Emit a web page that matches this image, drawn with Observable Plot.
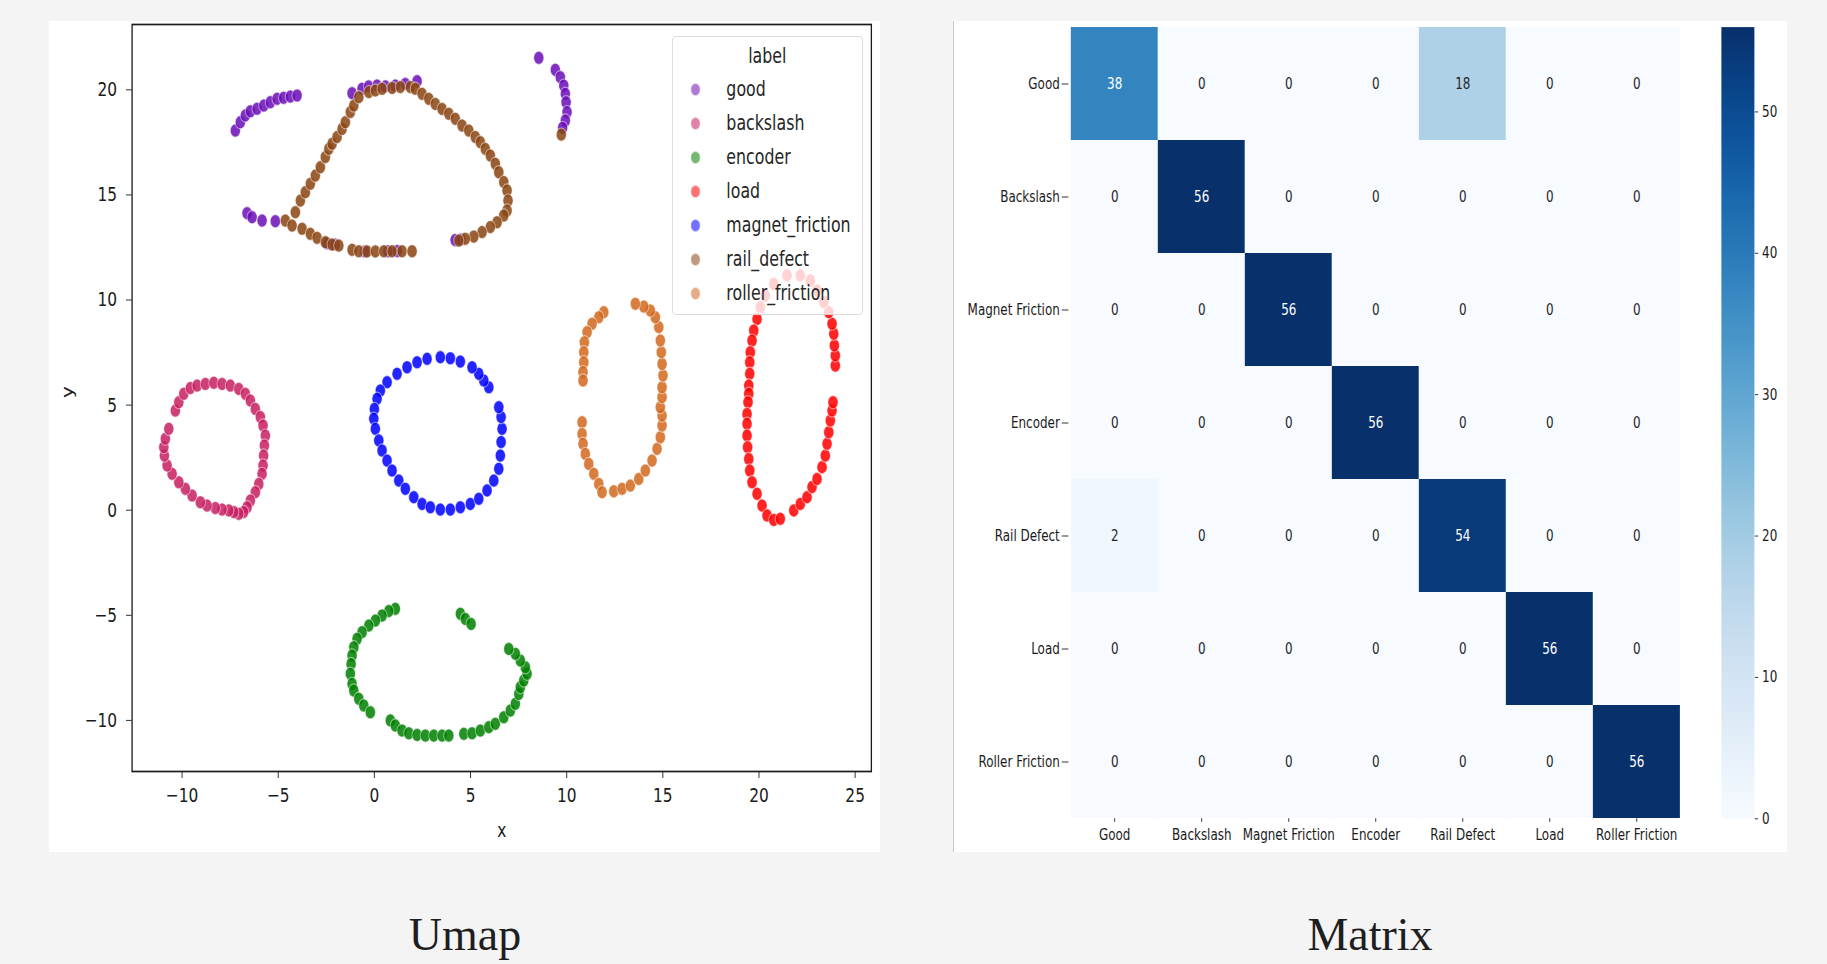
<!DOCTYPE html>
<html>
<head>
<meta charset="utf-8">
<script src="https://cdn.jsdelivr.net/npm/d3@7"></script>
<script src="https://cdn.jsdelivr.net/npm/@observablehq/plot@0.6"></script>
<style>
html, body { margin: 0; padding: 0; background: #f4f4f4; }
body { width: 1827px; height: 964px; position: relative; overflow: hidden; font-family: "DejaVu Sans", sans-serif; }
.panel { position: absolute; background: #fff; overflow: hidden; }
#umap { left: 49px; top: 21px; width: 831px; height: 831px; }
#matrix { left: 953px; top: 21px; width: 834px; height: 831px; }
#matrixEdge { position: absolute; left: 953px; top: 21px; width: 1px; height: 831px; background: #c8c8c8; }
.panel svg { position: absolute; top: 0; }
.caption { position: absolute; top: 912px; font-family: "Liberation Serif", serif; font-size: 46px; line-height: 46px; color: #1e1e1e; transform: translateX(-50%); white-space: nowrap; }
#legend { position: absolute; left: 622.7px; top: 15px; width: 247.5px; height: 279px; box-sizing: border-box;
  border: 1.3px solid #d6d6d6; border-radius: 5px; background: rgba(255,255,255,0.8);
  transform: scaleX(0.77); transform-origin: 0 0; font-family: "DejaVu Sans", sans-serif; font-size: 20.5px; color: #262626; }
#legend .ttl { position: absolute; left: 0; right: 0; top: 7px; line-height: 24px; text-align: center; }
#legend .row { position: absolute; left: 0; height: 24px; line-height: 24px; width: 100%; }
#legend .sw { position: absolute; left: 22.9px; top: 5.5px; width: 13px; height: 13px; border-radius: 50%; box-sizing: border-box; border: 1px solid rgba(255,255,255,0.6); }
#legend .lb { position: absolute; left: 69.6px; top: 0; }
</style>
</head>
<body>
<div class="panel" id="umap"></div>
<div class="panel" id="matrix"></div>
<div id="matrixEdge"></div>
<div class="caption" style="left:465px">Umap</div>
<div class="caption" style="left:1370px">Matrix</div>
<script>
// ---------- UMAP data ----------
const classes = ["good", "backslash", "encoder", "load", "magnet_friction", "rail_defect", "roller_friction"];
const classColors = ["#6b0fb8", "#c71f62", "#008000", "#ff0000", "#0000ff", "#8b4513", "#d2691e"];

const good = [
  [-7.23,18.06],[-6.97,18.46],[-6.71,18.78],[-6.45,18.98],[-6.10,19.10],[-5.75,19.25],[-5.41,19.41],[-5.06,19.57],[-4.72,19.62],[-4.37,19.68],[-4.02,19.73],
  [8.55,21.52],[9.41,20.95],[9.67,20.60],[9.85,20.20],[9.93,19.81],[9.97,19.41],[10.02,18.94],[9.93,18.54],[9.79,18.19],
  [-1.16,19.84],[-0.64,20.05],[-0.30,20.16],[0.14,20.20],[0.57,20.16],[1.09,20.20],[1.61,20.28],[2.22,20.41],
  [-6.62,14.13],[-6.36,13.94],[-5.84,13.78],[-5.15,13.75],
  [-2.45,12.70],[-2.05,12.64],[-0.50,12.31],[0.70,12.32],[1.20,12.33],[4.20,12.85],[4.50,12.88]
];
const backslash = [
  [-10.35,4.74],[-10.17,5.14],[-9.91,5.54],[-9.57,5.81],[-9.22,5.93],[-8.79,6.01],[-8.35,6.06],[-7.92,6.01],[-7.49,5.93],[-7.05,5.77],
  [-6.71,5.54],[-6.45,5.22],[-6.19,4.82],[-5.93,4.43],[-5.79,4.03],[-5.67,3.55],[-5.72,3.08],[-5.76,2.60],[-5.79,2.13],[-5.84,1.73],
  [-6.01,1.25],[-6.19,0.86],[-6.45,0.46],[-6.62,0.14],[-6.80,-0.09],[-7.05,-0.17],[-7.31,-0.09],[-7.57,-0.01],[-7.92,0.03],[-8.27,0.10],
  [-8.70,0.22],[-9.05,0.38],[-9.48,0.70],[-9.83,1.02],[-10.17,1.33],[-10.52,1.73],[-10.78,2.13],[-10.92,2.60],[-10.95,3.00],[-10.87,3.40],[-10.69,3.87]
];
const encoder = [
  [1.09,-4.69],[0.75,-4.80],[0.40,-5.01],[0.05,-5.25],[-0.29,-5.49],[-0.64,-5.80],[-0.90,-6.12],[-1.07,-6.52],[-1.16,-6.91],[-1.21,-7.31],
  [-1.25,-7.78],[-1.16,-8.26],[-1.07,-8.58],[-0.81,-8.97],[-0.55,-9.29],[-0.21,-9.61],
  [0.83,-10.00],[1.09,-10.24],[1.44,-10.48],[1.79,-10.61],[2.22,-10.69],[2.65,-10.72],[3.09,-10.72],[3.52,-10.72],[3.87,-10.72],
  [4.65,-10.64],[5.08,-10.61],[5.51,-10.48],[5.95,-10.32],[6.29,-10.16],[6.73,-9.85],[7.07,-9.53],[7.33,-9.21],[7.51,-8.74],[7.59,-8.42],
  [7.77,-8.10],[7.94,-7.78],[7.85,-7.47],[7.59,-7.15],[7.33,-6.83],[6.99,-6.60],
  [4.47,-4.93],[4.73,-5.17],[5.03,-5.41]
];
const load = [
  [21.46,11.17],[20.77,10.77],[20.33,10.21],[20.07,9.66],[19.90,9.10],[19.73,8.55],[19.64,8.07],[19.55,7.52],[19.52,7.04],[19.52,6.49],
  [19.47,5.93],[19.47,5.54],[19.43,5.14],[19.38,4.58],[19.38,4.11],[19.38,3.55],[19.41,3.00],[19.47,2.44],[19.52,1.89],[19.64,1.33],
  [19.90,0.78],[20.16,0.22],[20.42,-0.25],[20.77,-0.46],[21.11,-0.41],
  [21.81,-0.01],[22.15,0.30],[22.50,0.62],[22.76,1.10],[23.02,1.49],[23.28,2.05],[23.45,2.60],[23.54,3.16],[23.63,3.71],[23.71,4.27],
  [23.80,4.74],[23.85,5.14],
  [23.97,6.88],[23.97,7.36],[23.92,7.84],[23.89,8.39],[23.80,8.87],[23.63,9.42],[23.37,9.90],[23.02,10.45],[22.67,10.93],[22.15,11.17]
];
const magnetFriction = [
  [5.95,5.85],[5.69,6.17],[5.43,6.49],[5.08,6.80],[4.47,7.07],[3.95,7.23],[3.43,7.28],[2.74,7.20],[2.22,7.04],[1.70,6.80],
  [1.18,6.49],[0.66,6.09],[0.31,5.69],[0.14,5.30],[0.00,4.82],[-0.03,4.35],[0.05,3.87],[0.23,3.32],[0.40,2.84],[0.66,2.36],
  [0.92,1.89],[1.27,1.41],[1.61,1.02],[2.05,0.62],[2.48,0.30],[2.91,0.14],[3.43,0.03],[3.95,0.03],[4.47,0.14],[4.99,0.30],
  [5.43,0.54],[5.86,0.94],[6.21,1.41],[6.47,1.97],[6.55,2.60],[6.59,3.24],[6.64,3.87],[6.59,4.43],[6.47,4.90]
];
const railDefect = [
  [-4.63,13.78],[-4.11,14.18],[-3.85,14.73],[-3.59,15.13],[-3.33,15.53],[-3.07,15.92],[-2.81,16.32],[-2.55,16.80],[-2.37,17.19],[-2.20,17.43],
  [-1.94,17.75],[-1.68,18.14],[-1.51,18.46],[-1.25,18.94],[-1.07,19.25],[-0.81,19.65],
  [-0.29,19.89],[0.05,19.97],[0.40,20.05],[0.92,20.09],[1.35,20.13],[1.87,20.13],[2.13,20.05],
  [2.48,19.81],[2.83,19.57],[3.17,19.33],[3.52,19.09],[3.87,18.86],[4.21,18.62],[4.56,18.30],[4.91,18.06],[5.25,17.75],[5.51,17.51],
  [5.77,17.19],[6.03,16.87],[6.29,16.48],[6.47,16.08],[6.73,15.61],[6.90,15.21],[6.95,14.73],[6.90,14.26],[6.73,14.02],[6.38,13.70],
  [6.03,13.47],[5.60,13.23],[5.17,13.02],[4.73,12.91],[4.39,12.83],
  [-4.28,13.54],[-3.76,13.39],[-3.33,13.15],[-2.98,12.96],[-2.55,12.75],[-2.20,12.64],[-1.85,12.59],
  [-1.16,12.39],[-0.81,12.32],[-0.38,12.31],[0.05,12.31],[0.49,12.32],[0.92,12.32],[1.44,12.32],[1.96,12.32],
  [9.72,17.87]
];
const rollerFriction = [
  [11.93,9.42],[11.67,9.18],[11.32,8.87],[11.06,8.47],[10.92,7.99],[10.89,7.52],[10.89,7.04],[10.85,6.57],[10.85,6.17],
  [10.80,4.19],[10.80,3.63],[10.85,3.16],[10.97,2.68],[11.15,2.20],[11.41,1.73],[11.67,1.25],[11.84,0.86],
  [12.45,0.90],[12.88,1.02],[13.31,1.17],[13.75,1.49],[14.09,1.89],[14.44,2.36],[14.70,2.92],[14.87,3.47],[14.96,4.03],
  [14.96,4.50],[14.87,4.90],[14.96,5.38],[14.96,5.85],[15.01,6.41],[14.96,6.96],[14.92,7.52],[14.87,8.07],[14.79,8.71],
  [14.61,9.18],[14.35,9.50],[14.01,9.69],[13.57,9.82]
];
const umapSeries = [good, backslash, encoder, load, magnetFriction, railDefect, rollerFriction];

const xTicks = [-10, -5, 0, 5, 10, 15, 20, 25];
const xTickLabels = ["\u221210", "\u22125", "0", "5", "10", "15", "20", "25"];
const yTicks = [-10, -5, 0, 5, 10, 15, 20];
const yTickLabels = ["\u221210", "\u22125", "0", "5", "10", "15", "20"];

// ---------- Confusion matrix data ----------
const matrixLabels = ["Good", "Backslash", "Magnet Friction", "Encoder", "Rail Defect", "Load", "Roller Friction"];
const rowGood           = [38, 0, 0, 0, 18, 0, 0];
const rowBackslash      = [0, 56, 0, 0, 0, 0, 0];
const rowMagnetFriction = [0, 0, 56, 0, 0, 0, 0];
const rowEncoder        = [0, 0, 0, 56, 0, 0, 0];
const rowRailDefect     = [2, 0, 0, 0, 54, 0, 0];
const rowLoad           = [0, 0, 0, 0, 0, 56, 0];
const rowRollerFriction = [0, 0, 0, 0, 0, 0, 56];
const confusion = [rowGood, rowBackslash, rowMagnetFriction, rowEncoder, rowRailDefect, rowLoad, rowRollerFriction];
const colorbarTicks = [0, 10, 20, 30, 40, 50];
const colorMax = 56;

// ---------- helpers ----------
const SQ = 0.77; // horizontal squeeze of the original raster images
function squash(svg, dispW, H) {
  const natW = +svg.getAttribute("width");
  svg.setAttribute("viewBox", `0 0 ${natW} ${H}`);
  svg.setAttribute("preserveAspectRatio", "none");
  svg.setAttribute("width", dispW);
  svg.setAttribute("height", H);
  svg.style.width = dispW + "px";
  svg.style.height = H + "px";
  svg.style.maxWidth = "none";
  return svg;
}

// ---------- UMAP scatter ----------
const points = umapSeries.flatMap((pts, i) => pts.map(([x, y]) => ({x, y, label: classes[i]})));
const umapW = 831, umapH = 831;
const umap = Plot.plot({
  width: umapW / SQ, height: umapH,
  marginLeft: 107.4, marginRight: 11.7, marginTop: 3, marginBottom: 81,
  style: {background: "transparent", fontFamily: "DejaVu Sans", fontSize: "20px", color: "#1a1a1a"},
  x: {domain: [-12.6, 25.845], ticks: xTicks, tickFormat: d => xTickLabels[xTicks.indexOf(d)], tickSize: 7, tickPadding: 9, label: null},
  y: {domain: [-12.43, 23.107], ticks: yTicks, tickFormat: d => yTickLabels[yTicks.indexOf(d)], tickSize: 7.4, tickPadding: 12, label: null},
  color: {domain: classes, range: classColors},
  marks: [
    Plot.dot(points, {x: "x", y: "y", fill: "label", r: 6.6, fillOpacity: 0.86, stroke: "white", strokeOpacity: 0.5, strokeWidth: 1.2}),
    Plot.frame({stroke: "#1a1a1a", strokeWidth: 1.7}),
    Plot.text(["x"], {frameAnchor: "bottom", dy: 59, lineAnchor: "middle", fontSize: 20}),
    Plot.text(["y"], {frameAnchor: "left", dx: -83.2, rotate: -90, fontSize: 20})
  ]
});
document.getElementById("umap").appendChild(squash(umap, umapW, umapH));

// legend (HTML, like matplotlib's boxed legend)
const legend = document.createElement("div");
legend.id = "legend";
legend.innerHTML = `<div class="ttl">label</div>` + classes.map((c, i) =>
  `<div class="row" style="top:${40.3 + 34 * i}px"><span class="sw" style="background:${classColors[i]};opacity:0.55"></span><span class="lb">${c}</span></div>`
).join("");
document.getElementById("umap").appendChild(legend);

// ---------- Confusion matrix heatmap ----------
const cells = confusion.flatMap((row, i) => row.map((v, j) => ({actual: matrixLabels[i], predicted: matrixLabels[j], v})));
const hmW = 760, hmH = 831;
const heat = Plot.plot({
  width: hmW / SQ, height: hmH,
  marginLeft: 149.9, marginRight: 39.6, marginTop: 5.6, marginBottom: 33.7,
  style: {background: "transparent", fontFamily: "DejaVu Sans", fontSize: "15.5px", color: "#1a1a1a"},
  x: {domain: matrixLabels, padding: 0, tickSize: 3.5, tickPadding: 7, label: null},
  y: {domain: matrixLabels, padding: 0, tickSize: 8.7, tickPadding: 3, label: null},
  color: {type: "linear", scheme: "blues", domain: [0, colorMax]},
  marks: [
    Plot.cell(cells, {x: "predicted", y: "actual", fill: "v"}),
    Plot.text(cells.filter(d => d.v > 28), {x: "predicted", y: "actual", text: d => String(d.v), fill: "white", fontSize: 15.5}),
    Plot.text(cells.filter(d => d.v <= 28), {x: "predicted", y: "actual", text: d => String(d.v), fill: "#262626", fontSize: 15.5})
  ]
});
const heatSvg = squash(heat, hmW, hmH);
heatSvg.style.left = "0px";
document.getElementById("matrix").appendChild(heatSvg);

// colorbar
const cbW = 74;
const cbar = Plot.plot({
  width: cbW / SQ, height: hmH,
  marginLeft: 10.39, marginRight: 42.85, marginTop: 5.6, marginBottom: 33.7,
  style: {background: "transparent", fontFamily: "DejaVu Sans", fontSize: "15.5px", color: "#1a1a1a"},
  x: {domain: [0, 1], axis: null},
  y: {domain: [0, colorMax], ticks: colorbarTicks, axis: "right", tickSize: 4.4, tickPadding: 5.6, label: null},
  color: {type: "linear", scheme: "blues", domain: [0, colorMax]},
  marks: [
    Plot.raster({x1: 0, x2: 1, y1: 0, y2: colorMax, width: 1, height: 256, fill: (x, y) => y, imageRendering: "auto"})
  ]
});
const cbSvg = squash(cbar, cbW, hmH);
cbSvg.style.left = hmW + "px";
document.getElementById("matrix").appendChild(cbSvg);
</script>
</body>
</html>
